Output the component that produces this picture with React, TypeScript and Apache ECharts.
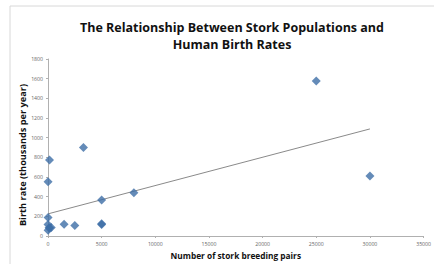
import React, { useEffect, useRef } from "react";
import * as echarts from "echarts";

const storkPairs = [100, 300, 1, 5000, 9, 140, 3300, 2500, 4, 5000, 5, 30000, 1500, 5000, 8000, 150, 25000];
const birthRates = [83, 87, 118, 117, 59, 774, 901, 106, 188, 124, 551, 610, 120, 367, 439, 82, 1576];
const titleLines = ["The Relationship Between Stork Populations and", "Human Birth Rates"];
const xName = "Number of stork breeding pairs";
const yName = "Birth rate (thousands per year)";

function fitLine(xs: number[], ys: number[]) {
  const n = xs.length;
  const mx = xs.reduce((a, b) => a + b, 0) / n;
  const my = ys.reduce((a, b) => a + b, 0) / n;
  let sxy = 0, sxx = 0;
  for (let i = 0; i < n; i++) {
    sxy += (xs[i] - mx) * (ys[i] - my);
    sxx += (xs[i] - mx) ** 2;
  }
  const slope = sxy / sxx;
  return { slope, intercept: my - slope * mx };
}

export default function App() {
  const ref = useRef<HTMLDivElement>(null);
  useEffect(() => {
    const chart = echarts.init(ref.current!, null, { renderer: "svg" });
    const { slope, intercept } = fitLine(storkPairs, birthRates);
    const xMin = 0;
    const xMax = Math.max(...storkPairs);
    const font = "'Open Sans', 'Liberation Sans', sans-serif";
    chart.setOption({
      animation: false,
      backgroundColor: "#ffffff",
      title: {
        text: titleLines.join("\n"),
        left: 227,
        textAlign: "center",
        top: 14,
        textStyle: { fontFamily: font, fontSize: 12.5, fontWeight: "bold", color: "#111", lineHeight: 17 },
      },
      graphic: [
        {
          type: "rect",
          shape: { x: 10, y: 6, width: 440, height: 270 },
          style: { fill: "none", stroke: "#d8d8d8", lineWidth: 1 },
          silent: true,
        },
        {
          type: "text",
          x: 22,
          y: 155,
          rotation: Math.PI / 2,
          style: {
            text: yName,
            fontFamily: font,
            fontSize: 9.2,
            fontWeight: "bold",
            fill: "#111",
            align: "center",
            verticalAlign: "middle",
          },
          silent: true,
        },
      ],
      grid: { left: 48, right: 3, top: 59, bottom: 28 },
      xAxis: {
        type: "value",
        min: 0,
        max: 35000,
        interval: 5000,
        name: xName,
        nameLocation: "middle",
        nameGap: 15,
        nameTextStyle: { fontFamily: font, fontSize: 8.3, fontWeight: "bold", color: "#111" },
        axisLine: { lineStyle: { color: "#b0b0b0" } },
        axisTick: { show: true, length: 2, lineStyle: { color: "#b0b0b0" } },
        axisLabel: { fontFamily: font, fontSize: 5.2, color: "#666", margin: 5, formatter: (v: number) => String(v) },
        splitLine: { show: false },
      },
      yAxis: {
        type: "value",
        min: 0,
        max: 1800,
        interval: 200,
        axisLine: { show: true, lineStyle: { color: "#b0b0b0" } },
        axisTick: { show: true, length: 2, lineStyle: { color: "#b0b0b0" } },
        axisLabel: { fontFamily: font, fontSize: 5.2, color: "#666", margin: 5, formatter: (v: number) => String(v) },
        splitLine: { show: false },
      },
      series: [
        {
          type: "line",
          data: [
            [xMin, intercept + slope * xMin],
            [xMax, intercept + slope * xMax],
          ],
          showSymbol: false,
          symbol: "none",
          lineStyle: { color: "#8a8a8a", width: 1 },
          z: 1,
        },
        {
          type: "scatter",
          data: storkPairs.map((x, i) => [x, birthRates[i]]),
          symbol: "diamond",
          symbolSize: 9,
          itemStyle: { color: "#3d6ea6" },
          z: 2,
        },
      ],
    });
    return () => chart.dispose();
  }, []);
  return <div ref={ref} style={{ position: "fixed", left: 0, top: 0, width: 434, height: 264 }} />;
}
